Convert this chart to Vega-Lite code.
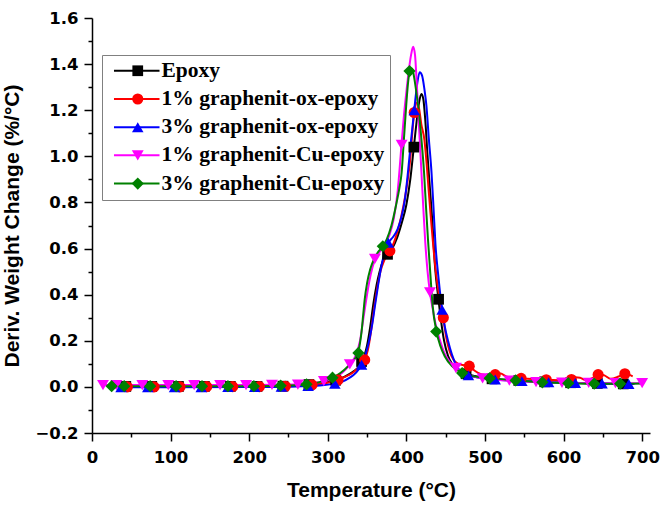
{
"$schema": "https://vega.github.io/schema/vega-lite/v6.json",
"width": 558, "height": 415,
"autosize": {"type": "none"},
"padding": {"left": 92, "top": 18, "right": 11, "bottom": 74},
"background": "white",
"config": {
  "view": {"stroke": null},
  "axis": {"domainColor": "black", "domainWidth": 1.5, "tickColor": "black", "tickWidth": 1.5, "labelFont": "DejaVu Sans", "labelFontWeight": "bold", "labelFontSize": 16.5, "labelColor": "black", "titleFont": "Liberation Sans", "titleFontWeight": "bold", "titleFontSize": 21, "titleColor": "black", "grid": false}
},
"datasets": {
"lines": [
{"name":"Epoxy","t":25,"v":0.002},{"name":"Epoxy","t":100,"v":0.001},{"name":"Epoxy","t":200,"v":0.002},{"name":"Epoxy","t":260,"v":0.005},{"name":"Epoxy","t":285,"v":0.012},{"name":"Epoxy","t":305,"v":0.025},{"name":"Epoxy","t":320,"v":0.042},{"name":"Epoxy","t":332,"v":0.065},{"name":"Epoxy","t":340,"v":0.09},{"name":"Epoxy","t":346,"v":0.13},{"name":"Epoxy","t":350,"v":0.18},{"name":"Epoxy","t":354,"v":0.26},{"name":"Epoxy","t":358,"v":0.36},{"name":"Epoxy","t":362,"v":0.44},{"name":"Epoxy","t":366,"v":0.5},{"name":"Epoxy","t":370,"v":0.545},{"name":"Epoxy","t":376,"v":0.575},{"name":"Epoxy","t":382,"v":0.6},{"name":"Epoxy","t":388,"v":0.645},{"name":"Epoxy","t":394,"v":0.71},{"name":"Epoxy","t":400,"v":0.79},{"name":"Epoxy","t":405,"v":0.9},{"name":"Epoxy","t":409.5,"v":1.04},{"name":"Epoxy","t":413,"v":1.15},{"name":"Epoxy","t":416,"v":1.23},{"name":"Epoxy","t":419,"v":1.27},{"name":"Epoxy","t":421.5,"v":1.25},{"name":"Epoxy","t":424,"v":1.16},{"name":"Epoxy","t":427,"v":1.0},{"name":"Epoxy","t":430,"v":0.86},{"name":"Epoxy","t":433,"v":0.72},{"name":"Epoxy","t":436.5,"v":0.52},{"name":"Epoxy","t":440.5,"v":0.39},{"name":"Epoxy","t":444,"v":0.29},{"name":"Epoxy","t":448,"v":0.2},{"name":"Epoxy","t":453,"v":0.135},{"name":"Epoxy","t":458,"v":0.1},{"name":"Epoxy","t":465,"v":0.078},{"name":"Epoxy","t":475,"v":0.058},{"name":"Epoxy","t":490,"v":0.045},{"name":"Epoxy","t":510,"v":0.035},{"name":"Epoxy","t":540,"v":0.028},{"name":"Epoxy","t":580,"v":0.021},{"name":"Epoxy","t":620,"v":0.017},{"name":"Epoxy","t":660,"v":0.014},{"name":"Epoxy","t":690,"v":0.013},
{"name":"1% graphenit-ox-epoxy","t":28,"v":0.0},{"name":"1% graphenit-ox-epoxy","t":100,"v":0.0},{"name":"1% graphenit-ox-epoxy","t":200,"v":0.001},{"name":"1% graphenit-ox-epoxy","t":260,"v":0.004},{"name":"1% graphenit-ox-epoxy","t":285,"v":0.01},{"name":"1% graphenit-ox-epoxy","t":305,"v":0.022},{"name":"1% graphenit-ox-epoxy","t":320,"v":0.04},{"name":"1% graphenit-ox-epoxy","t":333,"v":0.065},{"name":"1% graphenit-ox-epoxy","t":342,"v":0.095},{"name":"1% graphenit-ox-epoxy","t":347,"v":0.117},{"name":"1% graphenit-ox-epoxy","t":351,"v":0.16},{"name":"1% graphenit-ox-epoxy","t":355,"v":0.24},{"name":"1% graphenit-ox-epoxy","t":359,"v":0.34},{"name":"1% graphenit-ox-epoxy","t":363,"v":0.43},{"name":"1% graphenit-ox-epoxy","t":367,"v":0.5},{"name":"1% graphenit-ox-epoxy","t":372,"v":0.55},{"name":"1% graphenit-ox-epoxy","t":378,"v":0.585},{"name":"1% graphenit-ox-epoxy","t":384,"v":0.625},{"name":"1% graphenit-ox-epoxy","t":390,"v":0.69},{"name":"1% graphenit-ox-epoxy","t":396,"v":0.78},{"name":"1% graphenit-ox-epoxy","t":401,"v":0.88},{"name":"1% graphenit-ox-epoxy","t":405,"v":0.99},{"name":"1% graphenit-ox-epoxy","t":408,"v":1.12},{"name":"1% graphenit-ox-epoxy","t":410.5,"v":1.2},{"name":"1% graphenit-ox-epoxy","t":413,"v":1.232},{"name":"1% graphenit-ox-epoxy","t":416,"v":1.21},{"name":"1% graphenit-ox-epoxy","t":419,"v":1.14},{"name":"1% graphenit-ox-epoxy","t":423,"v":1.07},{"name":"1% graphenit-ox-epoxy","t":425.5,"v":0.98},{"name":"1% graphenit-ox-epoxy","t":428,"v":0.87},{"name":"1% graphenit-ox-epoxy","t":431,"v":0.74},{"name":"1% graphenit-ox-epoxy","t":434,"v":0.62},{"name":"1% graphenit-ox-epoxy","t":437.5,"v":0.5},{"name":"1% graphenit-ox-epoxy","t":442,"v":0.39},{"name":"1% graphenit-ox-epoxy","t":446.8,"v":0.3},{"name":"1% graphenit-ox-epoxy","t":451,"v":0.21},{"name":"1% graphenit-ox-epoxy","t":455,"v":0.155},{"name":"1% graphenit-ox-epoxy","t":460,"v":0.118},{"name":"1% graphenit-ox-epoxy","t":466,"v":0.1},{"name":"1% graphenit-ox-epoxy","t":472,"v":0.095},{"name":"1% graphenit-ox-epoxy","t":480,"v":0.09},{"name":"1% graphenit-ox-epoxy","t":487,"v":0.07},{"name":"1% graphenit-ox-epoxy","t":495,"v":0.055},{"name":"1% graphenit-ox-epoxy","t":505,"v":0.05},{"name":"1% graphenit-ox-epoxy","t":513,"v":0.053},{"name":"1% graphenit-ox-epoxy","t":520,"v":0.058},{"name":"1% graphenit-ox-epoxy","t":527,"v":0.045},{"name":"1% graphenit-ox-epoxy","t":540,"v":0.038},{"name":"1% graphenit-ox-epoxy","t":560,"v":0.034},{"name":"1% graphenit-ox-epoxy","t":580,"v":0.031},{"name":"1% graphenit-ox-epoxy","t":600,"v":0.028},{"name":"1% graphenit-ox-epoxy","t":610,"v":0.032},{"name":"1% graphenit-ox-epoxy","t":615,"v":0.042},{"name":"1% graphenit-ox-epoxy","t":621,"v":0.04},{"name":"1% graphenit-ox-epoxy","t":628,"v":0.03},{"name":"1% graphenit-ox-epoxy","t":638,"v":0.04},{"name":"1% graphenit-ox-epoxy","t":645,"v":0.055},{"name":"1% graphenit-ox-epoxy","t":652,"v":0.05},{"name":"1% graphenit-ox-epoxy","t":660,"v":0.035},{"name":"1% graphenit-ox-epoxy","t":670,"v":0.045},{"name":"1% graphenit-ox-epoxy","t":678,"v":0.057},{"name":"1% graphenit-ox-epoxy","t":688,"v":0.046},
{"name":"3% graphenit-ox-epoxy","t":30,"v":-0.002},{"name":"3% graphenit-ox-epoxy","t":100,"v":-0.002},{"name":"3% graphenit-ox-epoxy","t":200,"v":-0.001},{"name":"3% graphenit-ox-epoxy","t":260,"v":0.002},{"name":"3% graphenit-ox-epoxy","t":290,"v":0.006},{"name":"3% graphenit-ox-epoxy","t":305,"v":0.012},{"name":"3% graphenit-ox-epoxy","t":318,"v":0.022},{"name":"3% graphenit-ox-epoxy","t":328,"v":0.04},{"name":"3% graphenit-ox-epoxy","t":336,"v":0.062},{"name":"3% graphenit-ox-epoxy","t":343,"v":0.096},{"name":"3% graphenit-ox-epoxy","t":348,"v":0.14},{"name":"3% graphenit-ox-epoxy","t":352,"v":0.19},{"name":"3% graphenit-ox-epoxy","t":356,"v":0.26},{"name":"3% graphenit-ox-epoxy","t":360,"v":0.35},{"name":"3% graphenit-ox-epoxy","t":364,"v":0.44},{"name":"3% graphenit-ox-epoxy","t":368,"v":0.52},{"name":"3% graphenit-ox-epoxy","t":372,"v":0.58},{"name":"3% graphenit-ox-epoxy","t":377,"v":0.625},{"name":"3% graphenit-ox-epoxy","t":383,"v":0.65},{"name":"3% graphenit-ox-epoxy","t":389,"v":0.685},{"name":"3% graphenit-ox-epoxy","t":394,"v":0.74},{"name":"3% graphenit-ox-epoxy","t":398,"v":0.81},{"name":"3% graphenit-ox-epoxy","t":402,"v":0.93},{"name":"3% graphenit-ox-epoxy","t":406,"v":1.07},{"name":"3% graphenit-ox-epoxy","t":410,"v":1.2},{"name":"3% graphenit-ox-epoxy","t":414,"v":1.32},{"name":"3% graphenit-ox-epoxy","t":417,"v":1.365},{"name":"3% graphenit-ox-epoxy","t":420,"v":1.35},{"name":"3% graphenit-ox-epoxy","t":423,"v":1.29},{"name":"3% graphenit-ox-epoxy","t":425.5,"v":1.22},{"name":"3% graphenit-ox-epoxy","t":428.5,"v":1.08},{"name":"3% graphenit-ox-epoxy","t":432,"v":0.93},{"name":"3% graphenit-ox-epoxy","t":434.5,"v":0.78},{"name":"3% graphenit-ox-epoxy","t":437,"v":0.62},{"name":"3% graphenit-ox-epoxy","t":441,"v":0.47},{"name":"3% graphenit-ox-epoxy","t":445.5,"v":0.335},{"name":"3% graphenit-ox-epoxy","t":449,"v":0.26},{"name":"3% graphenit-ox-epoxy","t":453,"v":0.2},{"name":"3% graphenit-ox-epoxy","t":458,"v":0.14},{"name":"3% graphenit-ox-epoxy","t":464,"v":0.09},{"name":"3% graphenit-ox-epoxy","t":472,"v":0.06},{"name":"3% graphenit-ox-epoxy","t":485,"v":0.045},{"name":"3% graphenit-ox-epoxy","t":500,"v":0.036},{"name":"3% graphenit-ox-epoxy","t":520,"v":0.03},{"name":"3% graphenit-ox-epoxy","t":550,"v":0.025},{"name":"3% graphenit-ox-epoxy","t":580,"v":0.02},{"name":"3% graphenit-ox-epoxy","t":620,"v":0.017},{"name":"3% graphenit-ox-epoxy","t":660,"v":0.014},{"name":"3% graphenit-ox-epoxy","t":690,"v":0.013},
{"name":"1% graphenit-Cu-epoxy","t":14,"v":0.008},{"name":"1% graphenit-Cu-epoxy","t":100,"v":0.008},{"name":"1% graphenit-Cu-epoxy","t":200,"v":0.008},{"name":"1% graphenit-Cu-epoxy","t":260,"v":0.01},{"name":"1% graphenit-Cu-epoxy","t":285,"v":0.018},{"name":"1% graphenit-Cu-epoxy","t":305,"v":0.035},{"name":"1% graphenit-Cu-epoxy","t":318,"v":0.06},{"name":"1% graphenit-Cu-epoxy","t":328,"v":0.098},{"name":"1% graphenit-Cu-epoxy","t":336,"v":0.14},{"name":"1% graphenit-Cu-epoxy","t":341,"v":0.2},{"name":"1% graphenit-Cu-epoxy","t":345,"v":0.29},{"name":"1% graphenit-Cu-epoxy","t":349,"v":0.38},{"name":"1% graphenit-Cu-epoxy","t":353,"v":0.46},{"name":"1% graphenit-Cu-epoxy","t":357,"v":0.52},{"name":"1% graphenit-Cu-epoxy","t":361,"v":0.56},{"name":"1% graphenit-Cu-epoxy","t":366,"v":0.585},{"name":"1% graphenit-Cu-epoxy","t":372,"v":0.615},{"name":"1% graphenit-Cu-epoxy","t":378,"v":0.655},{"name":"1% graphenit-Cu-epoxy","t":384,"v":0.73},{"name":"1% graphenit-Cu-epoxy","t":389,"v":0.85},{"name":"1% graphenit-Cu-epoxy","t":393.8,"v":1.05},{"name":"1% graphenit-Cu-epoxy","t":397,"v":1.18},{"name":"1% graphenit-Cu-epoxy","t":400,"v":1.28},{"name":"1% graphenit-Cu-epoxy","t":403,"v":1.37},{"name":"1% graphenit-Cu-epoxy","t":406,"v":1.44},{"name":"1% graphenit-Cu-epoxy","t":408.6,"v":1.475},{"name":"1% graphenit-Cu-epoxy","t":411,"v":1.44},{"name":"1% graphenit-Cu-epoxy","t":413,"v":1.33},{"name":"1% graphenit-Cu-epoxy","t":415,"v":1.2},{"name":"1% graphenit-Cu-epoxy","t":417,"v":1.07},{"name":"1% graphenit-Cu-epoxy","t":419.2,"v":0.93},{"name":"1% graphenit-Cu-epoxy","t":421.5,"v":0.78},{"name":"1% graphenit-Cu-epoxy","t":424,"v":0.63},{"name":"1% graphenit-Cu-epoxy","t":427,"v":0.5},{"name":"1% graphenit-Cu-epoxy","t":430,"v":0.41},{"name":"1% graphenit-Cu-epoxy","t":434,"v":0.33},{"name":"1% graphenit-Cu-epoxy","t":438,"v":0.26},{"name":"1% graphenit-Cu-epoxy","t":442.5,"v":0.205},{"name":"1% graphenit-Cu-epoxy","t":448,"v":0.15},{"name":"1% graphenit-Cu-epoxy","t":455,"v":0.11},{"name":"1% graphenit-Cu-epoxy","t":462,"v":0.085},{"name":"1% graphenit-Cu-epoxy","t":470,"v":0.065},{"name":"1% graphenit-Cu-epoxy","t":480,"v":0.05},{"name":"1% graphenit-Cu-epoxy","t":497,"v":0.037},{"name":"1% graphenit-Cu-epoxy","t":530,"v":0.027},{"name":"1% graphenit-Cu-epoxy","t":565,"v":0.021},{"name":"1% graphenit-Cu-epoxy","t":600,"v":0.018},{"name":"1% graphenit-Cu-epoxy","t":650,"v":0.016},{"name":"1% graphenit-Cu-epoxy","t":700,"v":0.016},
{"name":"3% graphenit-Cu-epoxy","t":25,"v":0.003},{"name":"3% graphenit-Cu-epoxy","t":100,"v":0.003},{"name":"3% graphenit-Cu-epoxy","t":200,"v":0.003},{"name":"3% graphenit-Cu-epoxy","t":260,"v":0.007},{"name":"3% graphenit-Cu-epoxy","t":280,"v":0.014},{"name":"3% graphenit-Cu-epoxy","t":295,"v":0.026},{"name":"3% graphenit-Cu-epoxy","t":306,"v":0.04},{"name":"3% graphenit-Cu-epoxy","t":316,"v":0.06},{"name":"3% graphenit-Cu-epoxy","t":326,"v":0.09},{"name":"3% graphenit-Cu-epoxy","t":334,"v":0.12},{"name":"3% graphenit-Cu-epoxy","t":338.6,"v":0.147},{"name":"3% graphenit-Cu-epoxy","t":341,"v":0.19},{"name":"3% graphenit-Cu-epoxy","t":343,"v":0.24},{"name":"3% graphenit-Cu-epoxy","t":345,"v":0.31},{"name":"3% graphenit-Cu-epoxy","t":347,"v":0.38},{"name":"3% graphenit-Cu-epoxy","t":350,"v":0.45},{"name":"3% graphenit-Cu-epoxy","t":354,"v":0.51},{"name":"3% graphenit-Cu-epoxy","t":359,"v":0.555},{"name":"3% graphenit-Cu-epoxy","t":364,"v":0.585},{"name":"3% graphenit-Cu-epoxy","t":369,"v":0.605},{"name":"3% graphenit-Cu-epoxy","t":375,"v":0.64},{"name":"3% graphenit-Cu-epoxy","t":381,"v":0.7},{"name":"3% graphenit-Cu-epoxy","t":387,"v":0.79},{"name":"3% graphenit-Cu-epoxy","t":391,"v":0.86},{"name":"3% graphenit-Cu-epoxy","t":394,"v":0.93},{"name":"3% graphenit-Cu-epoxy","t":397,"v":1.08},{"name":"3% graphenit-Cu-epoxy","t":400,"v":1.23},{"name":"3% graphenit-Cu-epoxy","t":402.5,"v":1.33},{"name":"3% graphenit-Cu-epoxy","t":405,"v":1.38},{"name":"3% graphenit-Cu-epoxy","t":407.5,"v":1.38},{"name":"3% graphenit-Cu-epoxy","t":410,"v":1.34},{"name":"3% graphenit-Cu-epoxy","t":413,"v":1.27},{"name":"3% graphenit-Cu-epoxy","t":416,"v":1.19},{"name":"3% graphenit-Cu-epoxy","t":419,"v":1.08},{"name":"3% graphenit-Cu-epoxy","t":422.5,"v":0.93},{"name":"3% graphenit-Cu-epoxy","t":425,"v":0.78},{"name":"3% graphenit-Cu-epoxy","t":427.5,"v":0.64},{"name":"3% graphenit-Cu-epoxy","t":430.5,"v":0.49},{"name":"3% graphenit-Cu-epoxy","t":433.5,"v":0.35},{"name":"3% graphenit-Cu-epoxy","t":438.3,"v":0.24},{"name":"3% graphenit-Cu-epoxy","t":443,"v":0.18},{"name":"3% graphenit-Cu-epoxy","t":449,"v":0.132},{"name":"3% graphenit-Cu-epoxy","t":458,"v":0.09},{"name":"3% graphenit-Cu-epoxy","t":468,"v":0.066},{"name":"3% graphenit-Cu-epoxy","t":480,"v":0.05},{"name":"3% graphenit-Cu-epoxy","t":506,"v":0.038},{"name":"3% graphenit-Cu-epoxy","t":539,"v":0.028},{"name":"3% graphenit-Cu-epoxy","t":573,"v":0.02},{"name":"3% graphenit-Cu-epoxy","t":606,"v":0.016},{"name":"3% graphenit-Cu-epoxy","t":640,"v":0.014},{"name":"3% graphenit-Cu-epoxy","t":672,"v":0.014},{"name":"3% graphenit-Cu-epoxy","t":700,"v":0.015}
],
"markers": [
{"series":"Epoxy","t":43,"v":0.002},{"series":"Epoxy","t":76,"v":0.002},{"series":"Epoxy","t":110,"v":0.002},{"series":"Epoxy","t":143,"v":0.002},{"series":"Epoxy","t":176,"v":0.002},{"series":"Epoxy","t":210,"v":0.002},{"series":"Epoxy","t":243,"v":0.003},{"series":"Epoxy","t":276,"v":0.01},{"series":"Epoxy","t":310,"v":0.029},{"series":"Epoxy","t":343,"v":0.11},{"series":"Epoxy","t":376,"v":0.575},{"series":"Epoxy","t":409.5,"v":1.04},{"series":"Epoxy","t":441,"v":0.38},{"series":"Epoxy","t":476,"v":0.057},{"series":"Epoxy","t":509,"v":0.035},{"series":"Epoxy","t":543,"v":0.028},{"series":"Epoxy","t":576,"v":0.022},{"series":"Epoxy","t":609,"v":0.018},{"series":"Epoxy","t":643,"v":0.015},{"series":"Epoxy","t":676,"v":0.013},
{"series":"1% graphenit-ox-epoxy","t":45,"v":0.0},{"series":"1% graphenit-ox-epoxy","t":79,"v":0.0},{"series":"1% graphenit-ox-epoxy","t":112,"v":0.0},{"series":"1% graphenit-ox-epoxy","t":146,"v":0.001},{"series":"1% graphenit-ox-epoxy","t":179,"v":0.001},{"series":"1% graphenit-ox-epoxy","t":213,"v":0.001},{"series":"1% graphenit-ox-epoxy","t":246,"v":0.003},{"series":"1% graphenit-ox-epoxy","t":280,"v":0.009},{"series":"1% graphenit-ox-epoxy","t":313,"v":0.03},{"series":"1% graphenit-ox-epoxy","t":347,"v":0.117},{"series":"1% graphenit-ox-epoxy","t":379,"v":0.59},{"series":"1% graphenit-ox-epoxy","t":410,"v":1.19},{"series":"1% graphenit-ox-epoxy","t":447,"v":0.3},{"series":"1% graphenit-ox-epoxy","t":480,"v":0.09},{"series":"1% graphenit-ox-epoxy","t":513,"v":0.053},{"series":"1% graphenit-ox-epoxy","t":546,"v":0.037},{"series":"1% graphenit-ox-epoxy","t":578,"v":0.031},{"series":"1% graphenit-ox-epoxy","t":610,"v":0.032},{"series":"1% graphenit-ox-epoxy","t":644,"v":0.053},{"series":"1% graphenit-ox-epoxy","t":678,"v":0.057},
{"series":"3% graphenit-ox-epoxy","t":37,"v":-0.002},{"series":"3% graphenit-ox-epoxy","t":71,"v":-0.002},{"series":"3% graphenit-ox-epoxy","t":105,"v":-0.002},{"series":"3% graphenit-ox-epoxy","t":139,"v":-0.002},{"series":"3% graphenit-ox-epoxy","t":173,"v":-0.001},{"series":"3% graphenit-ox-epoxy","t":207,"v":-0.001},{"series":"3% graphenit-ox-epoxy","t":241,"v":0.001},{"series":"3% graphenit-ox-epoxy","t":275,"v":0.004},{"series":"3% graphenit-ox-epoxy","t":309,"v":0.014},{"series":"3% graphenit-ox-epoxy","t":343,"v":0.096},{"series":"3% graphenit-ox-epoxy","t":377,"v":0.625},{"series":"3% graphenit-ox-epoxy","t":410,"v":1.2},{"series":"3% graphenit-ox-epoxy","t":445.5,"v":0.335},{"series":"3% graphenit-ox-epoxy","t":479,"v":0.05},{"series":"3% graphenit-ox-epoxy","t":513,"v":0.032},{"series":"3% graphenit-ox-epoxy","t":547,"v":0.025},{"series":"3% graphenit-ox-epoxy","t":581,"v":0.02},{"series":"3% graphenit-ox-epoxy","t":615,"v":0.017},{"series":"3% graphenit-ox-epoxy","t":649,"v":0.015},{"series":"3% graphenit-ox-epoxy","t":683,"v":0.013},
{"series":"1% graphenit-Cu-epoxy","t":14,"v":0.008},{"series":"1% graphenit-Cu-epoxy","t":31,"v":0.008},{"series":"1% graphenit-Cu-epoxy","t":64,"v":0.008},{"series":"1% graphenit-Cu-epoxy","t":97,"v":0.008},{"series":"1% graphenit-Cu-epoxy","t":130,"v":0.008},{"series":"1% graphenit-Cu-epoxy","t":163,"v":0.008},{"series":"1% graphenit-Cu-epoxy","t":196,"v":0.008},{"series":"1% graphenit-Cu-epoxy","t":229,"v":0.009},{"series":"1% graphenit-Cu-epoxy","t":262,"v":0.01},{"series":"1% graphenit-Cu-epoxy","t":295,"v":0.025},{"series":"1% graphenit-Cu-epoxy","t":328,"v":0.098},{"series":"1% graphenit-Cu-epoxy","t":360,"v":0.555},{"series":"1% graphenit-Cu-epoxy","t":394,"v":1.05},{"series":"1% graphenit-Cu-epoxy","t":430,"v":0.41},{"series":"1% graphenit-Cu-epoxy","t":463,"v":0.082},{"series":"1% graphenit-Cu-epoxy","t":497,"v":0.037},{"series":"1% graphenit-Cu-epoxy","t":531,"v":0.027},{"series":"1% graphenit-Cu-epoxy","t":565,"v":0.021},{"series":"1% graphenit-Cu-epoxy","t":598,"v":0.018},{"series":"1% graphenit-Cu-epoxy","t":632,"v":0.017},{"series":"1% graphenit-Cu-epoxy","t":666,"v":0.016},{"series":"1% graphenit-Cu-epoxy","t":700,"v":0.016},
{"series":"3% graphenit-Cu-epoxy","t":25,"v":0.003},{"series":"3% graphenit-Cu-epoxy","t":41,"v":0.003},{"series":"3% graphenit-Cu-epoxy","t":74,"v":0.003},{"series":"3% graphenit-Cu-epoxy","t":107,"v":0.003},{"series":"3% graphenit-Cu-epoxy","t":140,"v":0.003},{"series":"3% graphenit-Cu-epoxy","t":173,"v":0.003},{"series":"3% graphenit-Cu-epoxy","t":206,"v":0.003},{"series":"3% graphenit-Cu-epoxy","t":240,"v":0.005},{"series":"3% graphenit-Cu-epoxy","t":273,"v":0.011},{"series":"3% graphenit-Cu-epoxy","t":306,"v":0.04},{"series":"3% graphenit-Cu-epoxy","t":339,"v":0.147},{"series":"3% graphenit-Cu-epoxy","t":370,"v":0.61},{"series":"3% graphenit-Cu-epoxy","t":404,"v":1.37},{"series":"3% graphenit-Cu-epoxy","t":438,"v":0.24},{"series":"3% graphenit-Cu-epoxy","t":471,"v":0.06},{"series":"3% graphenit-Cu-epoxy","t":506,"v":0.038},{"series":"3% graphenit-Cu-epoxy","t":539,"v":0.028},{"series":"3% graphenit-Cu-epoxy","t":573,"v":0.02},{"series":"3% graphenit-Cu-epoxy","t":606,"v":0.016},{"series":"3% graphenit-Cu-epoxy","t":639,"v":0.014},{"series":"3% graphenit-Cu-epoxy","t":672,"v":0.014}
]
},
"resolve": {"axis": {"x": "independent", "y": "independent"}},
"layer": [
{
  "data": {"name": "lines"},
  "mark": {"type": "line", "strokeWidth": 2, "interpolate": "monotone"},
  "encoding": {
    "x": {"field": "t", "type": "quantitative", "scale": {"domain": [0, 710], "nice": false, "zero": false},
      "axis": {"orient": "bottom", "values": [0,100,200,300,400,500,600,700], "title": "Temperature (°C)", "tickSize": 8, "labelPadding": 8, "titlePadding": 14, "labelFlush": false}},
    "y": {"field": "v", "type": "quantitative", "scale": {"domain": [-0.2, 1.6], "nice": false, "zero": false},
      "axis": {"orient": "left", "values": [-0.2,0,0.2,0.4,0.6,0.8,1.0,1.2,1.4,1.6], "format": ".1f", "title": "Deriv. Weight Change (%/°C)", "tickSize": 8, "labelPadding": 6, "titlePadding": 12, "labelFlush": false}},
    "stroke": {"field": "name", "type": "nominal",
      "sort": ["Epoxy","1% graphenit-ox-epoxy","3% graphenit-ox-epoxy","1% graphenit-Cu-epoxy","3% graphenit-Cu-epoxy"],
      "scale": {"range": ["#000000","#ff0000","#0000ff","#ff00ff","#008000"]},
      "legend": {"orient": "none", "legendX": 10, "legendY": 37, "title": null, "symbolType": "M-3.6,0H3.6", "symbolSize": 160, "symbolStrokeWidth": 2, "symbolOffset": 19, "labelOffset": 14, "labelFont": "Liberation Serif", "labelFontWeight": "bold", "labelFontSize": 21.5, "labelColor": "black", "rowPadding": 5.2, "padding": 5, "strokeColor": "#808080", "labelLimit": 400}}
  }
},
{
  "data": {"name": "markers"},
  "mark": {"type": "point", "filled": true, "opacity": 1},
  "encoding": {
    "x": {"field": "t", "type": "quantitative",
      "axis": {"orient": "bottom", "values": [50,150,250,350,450,550,650], "tickSize": 4, "labels": false, "domain": false, "title": null}},
    "y": {"field": "v", "type": "quantitative",
      "axis": {"orient": "left", "values": [-0.1,0.1,0.3,0.5,0.7,0.9,1.1,1.3,1.5], "tickSize": 4, "labels": false, "domain": false, "title": null}},
    "fill": {"field": "series", "type": "nominal",
      "scale": {"domain": ["Epoxy","1% graphenit-ox-epoxy","3% graphenit-ox-epoxy","1% graphenit-Cu-epoxy","3% graphenit-Cu-epoxy"], "range": ["#000000","#ff0000","#0000ff","#ff00ff","#008000"]},
      "legend": {"orient": "none", "legendX": 10, "legendY": 37, "title": null, "symbolOffset": 20, "symbolStrokeWidth": 0, "labelOffset": 14, "labelFont": "Liberation Serif", "labelFontWeight": "bold", "labelFontSize": 21.5, "labelOpacity": 0, "rowPadding": 5.2, "padding": 5, "labelLimit": 400}},
    "shape": {"field": "series", "type": "nominal",
      "scale": {"domain": ["Epoxy","1% graphenit-ox-epoxy","3% graphenit-ox-epoxy","1% graphenit-Cu-epoxy","3% graphenit-Cu-epoxy"], "range": ["square","circle","triangle-up","triangle-down","diamond"]}},
    "size": {"field": "series", "type": "nominal",
      "scale": {"domain": ["Epoxy","1% graphenit-ox-epoxy","3% graphenit-ox-epoxy","1% graphenit-Cu-epoxy","3% graphenit-Cu-epoxy"], "range": [115, 150, 190, 190, 225]}}
  }
}
]
}
